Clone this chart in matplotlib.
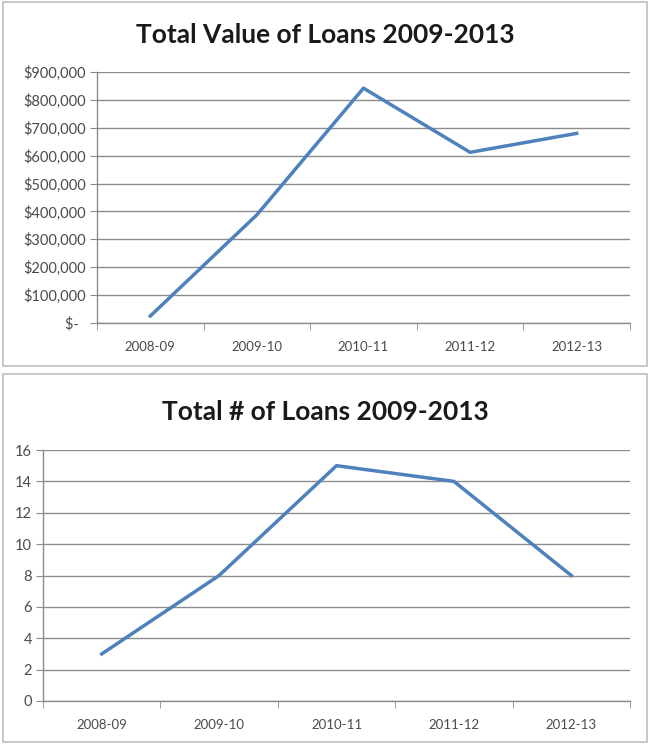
import matplotlib.pyplot as plt
from matplotlib.patches import Rectangle
from matplotlib.ticker import FuncFormatter, MultipleLocator

years = ["2008-09", "2009-10", "2010-11", "2011-12", "2012-13"]
loan_value = [25000, 388000, 842000, 612000, 680000]
loan_count = [3, 8, 15, 14, 8]

LINE = "#4F81BD"
GRID = "#8C8C8C"
TXT = "#4A4A4A"

plt.rcParams["font.family"] = ["Lato", "DejaVu Sans"]


def money(v, pos):
    if v == 0:
        return "$-  "
    return "${:,.0f}".format(v)


def style(ax, ymax, step):
    xs = range(len(years))
    ax.set_xlim(-0.5, len(years) - 0.5)
    ax.set_ylim(0, ymax)
    ax.set_xticks(list(xs))
    ax.set_xticklabels(years)
    ax.set_xticks([i - 0.5 for i in range(len(years) + 1)], minor=True)
    ax.tick_params(axis="x", which="major", length=0, pad=13, labelsize=9.5, colors=TXT)
    ax.tick_params(axis="x", which="minor", length=5, color=GRID, direction="out")
    ax.yaxis.set_major_locator(MultipleLocator(step))
    ax.tick_params(axis="y", length=5, color=GRID, labelsize=10.5, colors=TXT, pad=3)
    ax.grid(axis="y", color=GRID, linewidth=1)
    ax.set_axisbelow(True)
    for s in ["top", "right"]:
        ax.spines[s].set_visible(False)
    for s in ["left", "bottom"]:
        ax.spines[s].set_color(GRID)
        ax.spines[s].set_linewidth(1)


fig = plt.figure(figsize=(6.5, 7.44), dpi=100)

# chart frames
for y0, h in [(1 - 366 / 744, 364 / 744), (2 / 744, 368 / 744)]:
    fig.patches.append(Rectangle((3 / 650, y0), 644 / 650, h, transform=fig.transFigure,
                                 fill=False, edgecolor="#BFBFBF", linewidth=1.2))

ax1 = fig.add_axes([97 / 650, 1 - 323 / 744, 533 / 650, 251 / 744])
ax1.plot(range(len(years)), loan_value, color=LINE, linewidth=2.5)
style(ax1, 900000, 100000)
ax1.yaxis.set_major_formatter(FuncFormatter(money))
fig.text(0.5, 1 - 35 / 744, "Total Value of Loans 2009-2013", ha="center", va="center",
         fontsize=19, fontweight="bold", color="#1A1A1A")

ax2 = fig.add_axes([43 / 650, 1 - 701 / 744, 587 / 650, 251 / 744])
ax2.plot(range(len(years)), loan_count, color=LINE, linewidth=2.5)
style(ax2, 16, 2)
fig.text(0.5, 1 - 412 / 744, "Total # of Loans 2009-2013", ha="center", va="center",
         fontsize=19, fontweight="bold", color="#1A1A1A")

fig.savefig("out.png", dpi=100)
